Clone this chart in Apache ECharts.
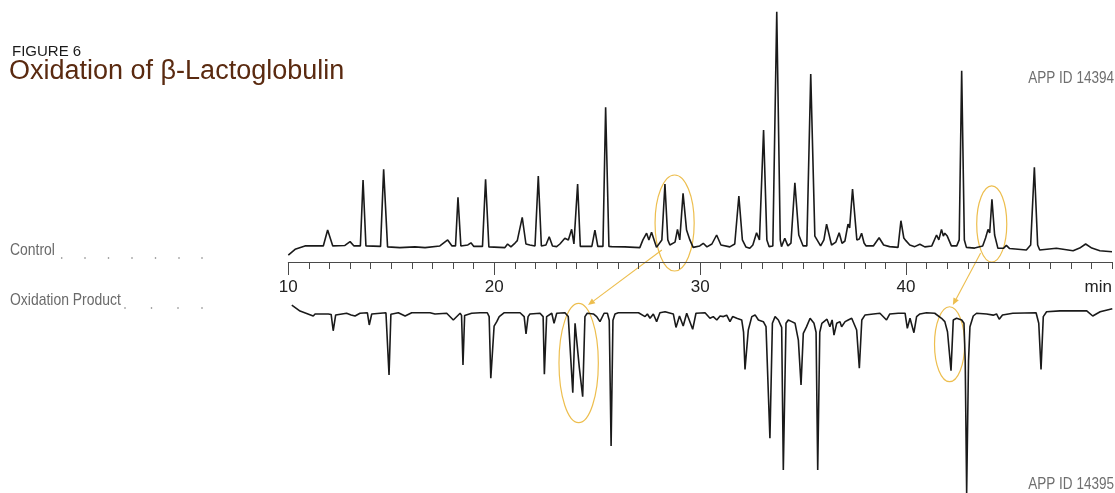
<!DOCTYPE html>
<html>
<head>
<meta charset="utf-8">
<script src="https://cdn.jsdelivr.net/npm/echarts@6/dist/echarts.min.js"></script>
<style>
  html, body { margin: 0; padding: 0; background: #fff; }
  #main { width: 1115px; height: 493px; }
</style>
</head>
<body>
<div id="main"></div>
<script>
// Retention time (min) and detector response for the control digest
const controlTrace = [
  [10.00,-2.1],[10.33,0.3],[10.81,1.7],[11.70,1.7],[11.91,8.3],[12.16,1.7],[12.75,1.9],[13.00,3.5],
  [13.19,1.7],[13.50,1.7],[13.63,29.2],[13.77,1.7],[14.48,1.5],[14.63,33.6],[14.82,1.3],[15.42,1.0],
  [16.15,1.3],[16.64,1.0],[17.36,1.7],[17.74,4.2],[17.95,1.7],[18.12,1.7],[18.24,22.0],[18.38,1.7],
  [18.72,2.1],[18.87,3.0],[19.01,1.5],[19.43,1.5],[19.58,29.5],[19.74,1.3],[20.52,1.0],[20.65,2.5],
  [20.81,1.3],[21.01,2.9],[21.12,3.9],[21.36,13.6],[21.54,2.5],[21.73,2.1],[21.98,1.7],[22.14,30.8],
  [22.29,1.7],[22.51,2.1],[22.67,5.5],[22.83,1.7],[23.03,1.4],[23.19,2.5],[23.43,4.9],[23.60,4.2],
  [23.76,8.6],[23.87,2.5],[24.05,27.5],[24.18,1.5],[24.74,1.5],[24.89,8.3],[25.03,1.5],[25.28,1.5],
  [25.41,59.5],[25.57,1.5],[25.70,1.4],[26.34,1.3],[27.07,1.0],[27.22,4.2],[27.40,7.0],[27.51,4.2],
  [27.64,7.4],[27.88,1.1],[28.14,4.2],[28.29,27.5],[28.43,4.2],[28.53,2.1],[28.78,3.3],[28.90,8.6],
  [29.01,4.2],[29.17,23.6],[29.34,8.3],[29.50,4.2],[29.66,1.1],[29.98,1.7],[30.15,2.8],[30.33,1.3],
  [30.57,2.5],[30.80,6.25],[31.01,2.1],[31.44,1.3],[31.68,2.5],[31.88,22.5],[32.05,4.2],[32.22,1.3],
  [32.41,0.7],[32.56,2.1],[32.74,7.2],[32.88,4.2],[33.08,50.0],[33.24,4.2],[33.35,1.4],[33.53,1.7],
  [33.72,99.3],[33.89,4.2],[33.95,1.4],[34.11,4.9],[34.26,1.7],[34.41,2.9],[34.60,28.0],[34.79,6.25],
  [35.00,1.7],[35.18,1.7],[35.37,73.3],[35.57,5.8],[35.85,1.7],[36.01,4.2],[36.14,10.8],[36.38,2.1],
  [36.59,3.3],[36.75,7.2],[36.89,2.8],[37.03,3.75],[37.18,10.8],[37.26,9.2],[37.40,25.4],[37.61,4.2],
  [37.73,4.6],[37.84,7.0],[37.96,2.9],[38.06,1.7],[38.41,1.7],[38.69,5.1],[38.91,2.1],[39.20,1.4],
  [39.61,1.1],[39.75,12.2],[39.89,5.0],[39.99,3.9],[40.18,2.1],[40.42,1.4],[40.67,2.4],[40.91,1.3],
  [41.25,1.7],[41.48,6.25],[41.59,4.2],[41.72,8.6],[41.81,5.8],[41.88,7.0],[42.00,5.8],[42.20,1.7],
  [42.46,1.7],[42.58,4.2],[42.70,74.7],[42.83,4.2],[42.93,1.1],[43.33,0.8],[43.72,1.7],[43.86,5.0],
  [43.98,8.6],[44.06,7.1],[44.17,21.1],[44.30,6.25],[44.46,0.7],[44.74,0.8],[44.87,1.9],[45.03,0.6],
  [45.84,0.0],[46.05,2.1],[46.23,34.5],[46.39,2.1],[46.49,0.0],[47.30,0.7],[48.11,-0.3],[48.43,0.8],
  [48.72,2.5],[49.02,0.8],[49.41,-0.3],[50.00,-0.7]
];

// Retention time (min) and detector response for the oxidized digest (plotted downward)
const oxidationTrace = [
  [10.17,-3.3],[10.57,-0.8],[11.21,1.25],[11.30,0.4],[11.94,0.4],[12.08,0.6],[12.18,7.4],[12.30,0.8],
  [12.83,0.1],[13.05,0.8],[13.24,1.25],[13.48,0.1],[13.84,-0.1],[13.93,5.0],[14.05,0.4],[14.74,-0.1],
  [14.80,0.5],[14.89,25.8],[14.98,0.5],[15.03,0.1],[15.34,-0.1],[15.67,1.25],[15.99,-0.1],[16.88,-0.1],
  [17.12,0.4],[17.69,0.1],[18.01,2.9],[18.34,0.1],[18.41,1.0],[18.48,21.7],[18.56,1.0],[18.61,0.4],
  [18.90,0.1],[19.31,-0.1],[19.66,-0.1],[19.75,1.5],[19.83,27.2],[19.99,5.5],[20.12,3.6],[20.24,1.5],
  [20.47,-0.1],[21.25,-0.1],[21.45,1.5],[21.54,8.75],[21.64,1.5],[21.73,0.4],[22.22,0.1],[22.37,1.5],
  [22.43,25.5],[22.54,1.5],[22.79,0.1],[22.90,4.3],[23.03,0.1],[23.43,-0.1],[23.59,1.5],[23.81,33.2],
  [23.92,4.3],[24.00,3.6],[24.13,23.0],[24.19,23.0],[24.29,34.9],[24.40,1.5],[24.51,0.1],[24.81,0.4],
  [24.97,1.5],[25.13,3.6],[25.33,0.1],[25.49,0.1],[25.58,3.0],[25.67,55.4],[25.76,3.0],[25.86,0.4],
  [26.02,-0.1],[27.00,-0.1],[27.32,1.5],[27.43,0.4],[27.56,2.2],[27.72,0.4],[27.88,3.6],[28.04,-0.1],
  [28.29,-0.5],[28.69,0.4],[28.82,6.0],[28.99,1.25],[29.17,5.4],[29.34,0.1],[29.63,6.8],[29.79,0.1],
  [30.23,-0.1],[30.47,2.2],[30.63,1.5],[30.80,2.9],[30.96,1.25],[31.12,1.5],[31.28,0.9],[31.44,3.6],
  [31.57,1.5],[31.77,2.2],[32.01,2.9],[32.10,8.0],[32.17,23.5],[32.33,7.1],[32.50,1.5],[32.66,0.8],
  [32.82,2.9],[33.06,3.6],[33.19,5.7],[33.38,52.2],[33.50,4.3],[33.63,1.5],[33.79,2.9],[33.95,6.0],
  [34.03,65.4],[34.16,4.3],[34.27,2.9],[34.44,3.6],[34.60,4.3],[34.76,11.3],[34.89,30.0],[35.00,8.5],
  [35.16,5.7],[35.33,2.2],[35.52,4.3],[35.62,8.0],[35.70,65.4],[35.80,8.0],[35.90,4.3],[36.15,2.6],
  [36.29,5.7],[36.40,2.9],[36.49,9.2],[36.62,4.3],[36.78,3.6],[36.86,5.7],[37.03,3.6],[37.18,2.9],
  [37.35,2.2],[37.43,1.5],[37.59,7.1],[37.72,23.0],[37.84,2.9],[38.00,0.8],[38.40,0.4],[38.72,0.1],
  [39.04,2.9],[39.20,0.4],[39.61,0.1],[39.94,0.1],[40.05,6.4],[40.18,2.2],[40.37,8.2],[40.50,1.5],
  [40.66,0.4],[40.98,-0.1],[41.38,0.1],[41.71,2.2],[41.87,3.6],[42.00,7.8],[42.17,24.0],[42.28,2.9],
  [42.44,2.2],[42.69,2.9],[42.80,4.3],[42.86,20.0],[42.93,75.0],[43.02,20.0],[43.09,5.7],[43.25,1.25],
  [43.41,0.1],[43.90,0.4],[44.22,0.9],[44.38,0.4],[44.51,2.6],[44.67,0.8],[45.17,0.1],[46.30,-0.1],
  [46.43,4.3],[46.54,23.5],[46.65,1.5],[46.81,-0.5],[47.46,-0.9],[48.76,-0.9],[49.05,1.25],[49.41,-0.5],
  [50.00,-1.8]
];

// Time axis: labelled every 10 min, minor ticks every minute
const majorTicks = [10, 20, 30, 40];
const tickLabels = [10, 20, 30, 40, 50];
const unitLabel = 'min';

// Highlighted peak groups (trace 0 = control, 1 = oxidation product): time span and response span
const highlights = [
  { trace: 0, t: [27.81, 29.71], v: [-8.75, 31.25] },
  { trace: 0, t: [43.43, 44.89], v: [-5.0, 26.7] },
  { trace: 1, t: [23.14, 25.05], v: [-4.0, 45.7] },
  { trace: 1, t: [41.37, 42.83], v: [-2.6, 28.6] }
];
// Arrows linking a control peak group to its shifted oxidized counterpart
const arrows = [
  { from: [0, 28.14, 0.0], to: [1, 24.55, -3.3] },
  { from: [0, 43.62, -1.25], to: [1, 42.26, -3.3] }
];

const FONT = "'Liberation Sans', Arial, Helvetica, sans-serif";
const GOLD = '#EDBE4E';
const INK = '#1a1a1a';

const chart = echarts.init(document.getElementById('main'));

const option = {
  animation: false,
  backgroundColor: '#ffffff',
  grid: [
    { left: 288.3, right: 2.7, top: 10, height: 252 },
    { left: 288.3, right: 2.7, top: 301, height: 192 }
  ],
  xAxis: [
    {
      type: 'value', gridIndex: 0, min: 10, max: 50, interval: 1, position: 'bottom',
      axisLine: { show: true, onZero: false, lineStyle: { color: '#4a4a4a', width: 1 } },
      axisTick: { show: true, length: 7, lineStyle: { color: '#4a4a4a', width: 1 } },
      axisLabel: { show: false }, splitLine: { show: false }
    },
    {
      type: 'value', gridIndex: 0, min: 10, max: 50, interval: 10, position: 'bottom',
      axisLine: { show: false, onZero: false },
      axisTick: { show: true, length: 13, customValues: majorTicks, lineStyle: { color: '#4a4a4a', width: 1 } },
      axisLabel: {
        show: true, customValues: tickLabels, margin: 17, fontSize: 17, color: '#222',
        fontFamily: FONT, alignMaxLabel: 'right',
        formatter: v => (v === 50 ? unitLabel : String(v))
      },
      splitLine: { show: false }
    },
    { type: 'value', gridIndex: 1, min: 10, max: 50, show: false, axisLine: { onZero: false } }
  ],
  yAxis: [
    { type: 'value', gridIndex: 0, min: -5, max: 100, show: false },
    { type: 'value', gridIndex: 1, min: -5, max: 75, inverse: true, show: false }
  ],
  series: [
    {
      name: 'Control', type: 'line', xAxisIndex: 0, yAxisIndex: 0, data: controlTrace,
      showSymbol: false, symbol: 'none', lineStyle: { color: INK, width: 1.6 }, clip: false
    },
    {
      name: 'Oxidation Product', type: 'line', xAxisIndex: 2, yAxisIndex: 1, data: oxidationTrace,
      showSymbol: false, symbol: 'none', lineStyle: { color: INK, width: 1.6 }, clip: false
    }
  ]
};
chart.setOption(option);

function toPx(trace, t, v) {
  return chart.convertToPixel({ gridIndex: trace }, [t, v]);
}

const graphics = [];

// Titles
graphics.push({
  type: 'text', x: 12, y: 44,
  style: { text: 'FIGURE 6', font: '15px ' + FONT, fill: '#1a1a1a', align: 'left', verticalAlign: 'top' }
});
graphics.push({
  type: 'text', x: 9, y: 58,
  style: { text: 'Oxidation of \u03B2-Lactoglobulin', font: '27px ' + FONT, fill: '#5a2a10', align: 'left', verticalAlign: 'top' }
});
// Reference ids
graphics.push({
  type: 'text', x: 1114, y: 70, scaleX: 0.82,
  style: { text: 'APP ID 14394', font: '16.5px ' + FONT, fill: '#6f6f6f', align: 'right', verticalAlign: 'top' }
});
graphics.push({
  type: 'text', x: 1114, y: 476, scaleX: 0.82,
  style: { text: 'APP ID 14395', font: '16.5px ' + FONT, fill: '#6f6f6f', align: 'right', verticalAlign: 'top' }
});
// Trace names with dotted leaders
graphics.push({
  type: 'text', x: 10, y: 242, scaleX: 0.82,
  style: { text: 'Control', font: '17px ' + FONT, fill: '#6a6a6a', align: 'left', verticalAlign: 'top' }
});
graphics.push({
  type: 'text', x: 10, y: 292, scaleX: 0.82,
  style: { text: 'Oxidation Product', font: '17px ' + FONT, fill: '#6a6a6a', align: 'left', verticalAlign: 'top' }
});
[61.7, 85, 108.5, 132, 155.5, 179, 202].forEach(x => graphics.push({
  type: 'circle', shape: { cx: x, cy: 258, r: 0.8 }, style: { fill: '#777' }
}));
[125, 151.5, 178, 202].forEach(x => graphics.push({
  type: 'circle', shape: { cx: x, cy: 308, r: 0.8 }, style: { fill: '#777' }
}));

// Highlight ellipses
highlights.forEach(h => {
  const a = toPx(h.trace, h.t[0], h.v[0]);
  const b = toPx(h.trace, h.t[1], h.v[1]);
  graphics.push({
    type: 'ellipse',
    shape: { cx: (a[0] + b[0]) / 2, cy: (a[1] + b[1]) / 2, rx: Math.abs(b[0] - a[0]) / 2, ry: Math.abs(b[1] - a[1]) / 2 },
    style: { fill: 'none', stroke: GOLD, lineWidth: 1.2 }
  });
});

// Connecting arrows
arrows.forEach(ar => {
  const p = toPx(ar.from[0], ar.from[1], ar.from[2]);
  const q = toPx(ar.to[0], ar.to[1], ar.to[2]);
  const dx = q[0] - p[0], dy = q[1] - p[1];
  const len = Math.sqrt(dx * dx + dy * dy);
  const ux = dx / len, uy = dy / len;
  const headLen = 7, headHalf = 3;
  const bx = q[0] - ux * headLen, by = q[1] - uy * headLen;
  graphics.push({
    type: 'line', shape: { x1: p[0], y1: p[1], x2: bx, y2: by },
    style: { stroke: GOLD, lineWidth: 1.1 }
  });
  graphics.push({
    type: 'polygon',
    shape: { points: [[q[0], q[1]], [bx - uy * headHalf, by + ux * headHalf], [bx + uy * headHalf, by - ux * headHalf]] },
    style: { fill: GOLD }
  });
});

chart.setOption({ graphic: { elements: graphics } });
</script>
</body>
</html>
